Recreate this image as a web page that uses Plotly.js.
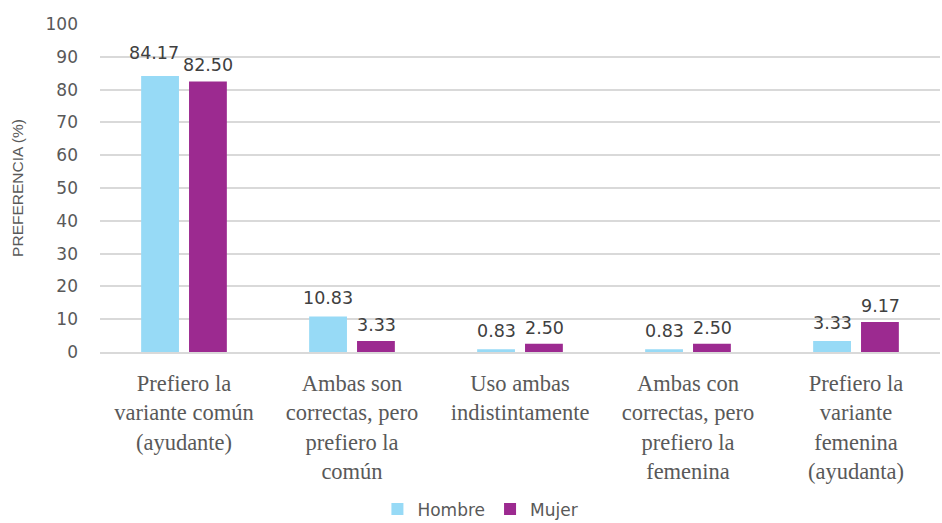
<!DOCTYPE html>
<html><head><meta charset="utf-8">
<script src="https://cdn.plot.ly/plotly-3.0.1.min.js"></script>
<style>html,body{margin:0;padding:0;background:#fff}#chart{width:942px;height:523px}</style>
</head><body><div id="chart"></div>
<script>
const categories = [
  "Prefiero la<br>variante común<br>(ayudante)",
  "Ambas son<br>correctas, pero<br>prefiero la<br>común",
  "Uso ambas<br>indistintamente",
  "Ambas con<br>correctas, pero<br>prefiero la<br>femenina",
  "Prefiero la<br>variante<br>femenina<br>(ayudanta)"
];
const hombre = [84.17, 10.83, 0.83, 0.83, 3.33];
const mujer = [82.50, 3.33, 2.50, 2.50, 9.17];
const yTicks = [0,10,20,30,40,50,60,70,80,90,100];

const data = [
  {type:'bar', x:categories, y:hombre, name:'Hombre', marker:{color:'#97DAF6'}, hoverinfo:'none'},
  {type:'bar', x:categories, y:mujer, name:'Mujer', marker:{color:'#9C2A90'}, hoverinfo:'none'}
];

const labelFont = {family:'DejaVu Sans, Verdana, sans-serif', size:17.5, color:'#404040'};
const annotations = [];
categories.forEach((c, i) => {
  const overlap = Math.abs(hombre[i] - mujer[i]) < 4 && hombre[i] > 20;
  annotations.push({x:c, y:hombre[i], xref:'x', yref:'y', text:hombre[i].toFixed(2), showarrow:false,
    xanchor:'center', yanchor:'bottom', xshift:-24 - (overlap ? 6 : 0), yshift: overlap ? 11 : 6, font:labelFont});
  annotations.push({x:c, y:mujer[i], xref:'x', yref:'y', text:mujer[i].toFixed(2), showarrow:false,
    xanchor:'center', yanchor:'bottom', xshift:24, yshift: 4, font:labelFont});
});

const layout = {
  width:942, height:523,
  margin:{l:100, r:2, t:24, b:171},
  paper_bgcolor:'#fff', plot_bgcolor:'#fff',
  barmode:'group', bargap:0.43, bargroupgap:0.21,
  font:{family:'DejaVu Sans, sans-serif', color:'#595959'},
  xaxis:{type:'category', automargin:false, showgrid:false, showline:true, linecolor:'#d9d9d9', linewidth:2, ticks:'',
    ticklabelstandoff:10,
    tickfont:{family:'Liberation Serif, serif', size:22.5, color:'#595959'}},
  yaxis:{range:[0,100], automargin:false, tickvals:yTicks, ticktext:yTicks.map(String), showgrid:true, gridcolor:'#d9d9d9', gridwidth:2,
    zeroline:false, showline:false, ticks:'', ticklabelstandoff:21,
    tickfont:{family:'DejaVu Sans, Verdana, sans-serif', size:17, color:'#595959'},
    title:{text:'PREFERENCIA (%)', font:{family:'Liberation Sans, Arial, sans-serif', size:15.5, color:'#595959'}, standoff:18}},
  annotations: annotations,
  showlegend:true,
  legend:{orientation:'h', x:0.51, xanchor:'center', xref:'container', y:0.026, yanchor:'middle', yref:'container',
    font:{family:'DejaVu Sans, Verdana, sans-serif', size:17, color:'#595959'}, itemwidth:30, traceorder:'normal'}
};
Plotly.newPlot('chart', data, layout, {displayModeBar:false, staticPlot:true});
</script></body></html>
